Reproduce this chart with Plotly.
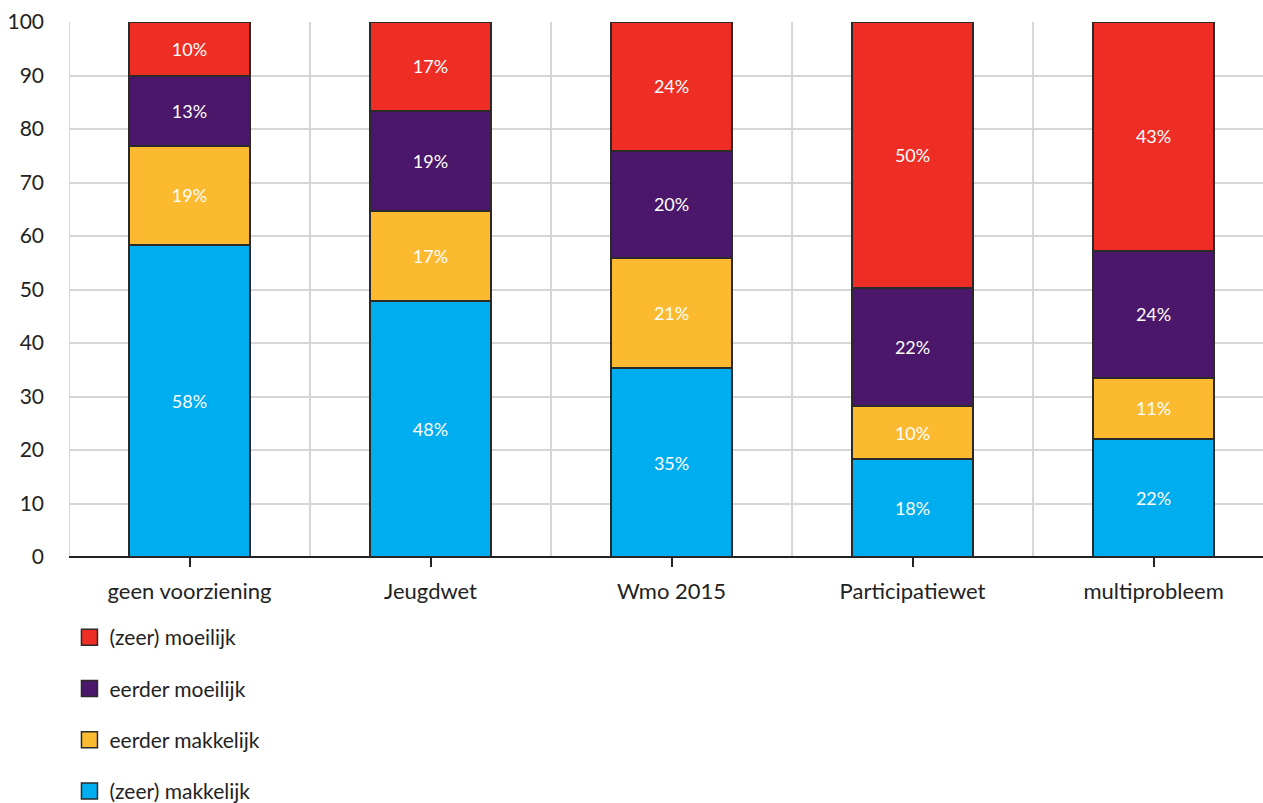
import plotly.graph_objects as go

categories = ['geen voorziening', 'Jeugdwet', 'Wmo 2015', 'Participatiewet', 'multiprobleem']

# percentages per category, bottom to top of the stack
zeer_makkelijk = [58.3, 47.9, 35.3, 18.3, 22.1]
eerder_makkelijk = [18.6, 16.8, 20.6, 9.9, 11.4]
eerder_moeilijk = [13.0, 18.7, 20.0, 22.1, 23.7]
zeer_moeilijk = [10.1, 16.6, 24.1, 49.7, 42.8]

series = [
    ('(zeer) makkelijk', zeer_makkelijk, '#00AEEF'),
    ('eerder makkelijk', eerder_makkelijk, '#FBBA30'),
    ('eerder moeilijk', eerder_moeilijk, '#4A176A'),
    ('(zeer) moeilijk', zeer_moeilijk, '#EE2E24'),
]

FONT = 'Lato'
grid = '#d6d6d6'

fig = go.Figure()
for k, (name, vals, col) in enumerate(series):
    fig.add_trace(go.Bar(
        x=categories, y=vals, name=name,
        marker=dict(color=col, line=dict(color='#2a2a2a', width=2)),
        width=0.5,
        texttemplate='%{y:.0f}%', textposition='inside',
        insidetextanchor='middle', textangle=0,
        textfont=dict(color='white', size=18, family=FONT),
        showlegend=False,
    ))
    # legend entry with a larger square symbol, top of stack listed first
    fig.add_trace(go.Scatter(
        x=[None], y=[None], mode='markers', name=name,
        marker=dict(symbol='square', size=22, color=col,
                    line=dict(color='#2a2a2a', width=1.5)),
        legendgroup=name, legendrank=100 - k,
    ))

# vertical grid lines at the category boundaries
for i in range(len(categories) + 1):
    fig.add_shape(type='line', xref='x', yref='paper', x0=i - 0.5, x1=i - 0.5,
                  y0=0, y1=1, line=dict(color=grid, width=2), layer='below')

fig.update_layout(
    barmode='stack',
    width=1263, height=803,
    margin=dict(l=69, r=0, t=22, b=246, autoexpand=False),
    plot_bgcolor='white', paper_bgcolor='white',
    font=dict(family=FONT, color='#222222', size=20),
    legend=dict(xref='container', yref='container', x=0.055, xanchor='left',
                y=0.2316, yanchor='top',
                orientation='v', traceorder='grouped',
                tracegroupgap=21, itemsizing='trace',
                font=dict(size=21, family=FONT, color='#222222')),
)
fig.update_xaxes(
    range=[-0.5, 4.454], showgrid=False, zeroline=False,
    ticks='outside', ticklen=9, tickwidth=2, tickcolor='#222222',
    ticklabelstandoff=6,
    tickfont=dict(size=22), showline=False, automargin=False,
)
fig.update_yaxes(
    range=[0, 100], dtick=10, showgrid=True, gridcolor=grid, gridwidth=2,
    zeroline=True, zerolinecolor='#222222', zerolinewidth=2,
    ticks='', ticklabelstandoff=24, tickfont=dict(size=21), automargin=False,
)

fig.write_html('out.html', config={'displayModeBar': False},
               post_script="document.body.style.margin='0';")
